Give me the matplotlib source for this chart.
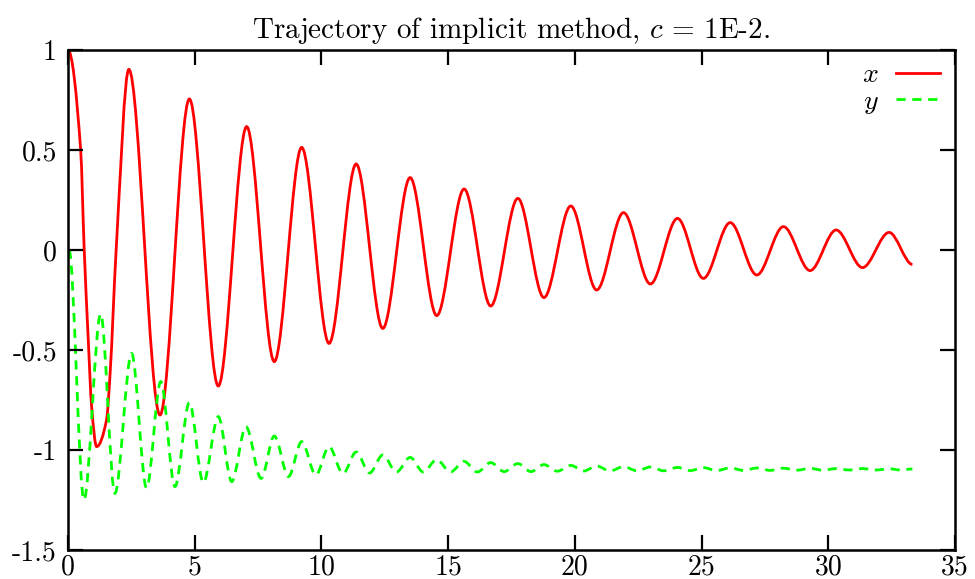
import numpy as np
import matplotlib
matplotlib.use('Agg')
import matplotlib.pyplot as plt
from matplotlib.path import Path
from matplotlib.patches import PathPatch
from matplotlib.lines import Line2D

plt.rcParams['font.family'] = ['cmr10', 'DejaVu Serif']
plt.rcParams['mathtext.fontset'] = 'cm'
plt.rcParams['axes.unicode_minus'] = False

# x(t): turning points (plus a few points on the first swing)
x_t = [0.0, 0.50, 0.64, 0.80, 0.93, 1.13, 1.52, 1.66, 1.90, 2.40,
       3.63, 4.79, 5.93, 7.05, 8.14, 9.22, 10.30, 11.37, 12.42, 13.50,
       14.55, 15.63, 16.68, 17.75, 18.78, 19.84, 20.86, 21.92, 22.98,
       24.05, 25.07, 26.13, 27.18, 28.23, 29.28, 30.31, 31.35, 32.40, 33.32]
x_v = [1.0, 0.5, 0.0, -0.45, -0.78, -0.983, -0.85, -0.62, 0.0, 0.903,
       -0.825, 0.755, -0.68, 0.617, -0.558, 0.513, -0.467, 0.43, -0.392, 0.362,
       -0.328, 0.305, -0.28, 0.258, -0.238, 0.22, -0.2, 0.187, -0.17,
       0.158, -0.142, 0.137, -0.125, 0.117, -0.103, 0.10, -0.088, 0.088, -0.072]

# y(t): turning points
y_t = [0.04, 0.63, 1.29, 1.85, 2.51, 3.10, 3.66, 4.22, 4.79, 5.34, 5.93,
       6.46, 7.02, 7.62, 8.14, 8.70, 9.22, 9.78, 10.30, 10.85, 11.37, 11.90,
       12.42, 12.96, 13.50, 14.02, 14.55, 15.09, 15.63, 16.15, 16.68, 17.21,
       17.75, 18.27, 18.78, 19.31, 19.84, 20.35, 20.86, 21.39, 21.92, 22.45,
       22.98, 23.51, 24.05, 24.56, 25.07, 25.60, 26.13, 26.65, 27.18, 27.70,
       28.23, 28.75, 29.28, 29.80, 30.31, 30.83, 31.35, 31.88, 32.40, 32.86,
       33.32]
y_v = [0.0, -1.25, -0.32, -1.217, -0.517, -1.19, -0.658, -1.183, -0.763, -1.163, -0.833,
       -1.158, -0.883, -1.142, -0.930, -1.133, -0.958, -1.125, -0.983, -1.118, -1.010, -1.115,
       -1.025, -1.110, -1.037, -1.110, -1.048, -1.110, -1.057, -1.110, -1.063, -1.108,
       -1.068, -1.108, -1.073, -1.106, -1.077, -1.105, -1.080, -1.105, -1.083, -1.104,
       -1.085, -1.104, -1.087, -1.103, -1.088, -1.103, -1.089, -1.102, -1.090, -1.102,
       -1.091, -1.101, -1.092, -1.101, -1.093, -1.100, -1.093, -1.100, -1.094, -1.100,
       -1.095]

xticks = [0, 5, 10, 15, 20, 25, 30, 35]
yticks = [-1.5, -1, -0.5, 0, 0.5, 1]
ytick_labels = ['-1.5', '-1', '-0.5', '0', '0.5', '1']


def slopes(t, v):
    # monotone (Fritsch-Carlson) tangents, flat at turning points
    t = np.asarray(t, float)
    v = np.asarray(v, float)
    h = np.diff(t)
    d = np.diff(v) / h
    m = np.zeros_like(v)
    for i in range(1, len(v) - 1):
        if d[i - 1] * d[i] > 0:
            w1 = 2 * h[i] + h[i - 1]
            w2 = h[i] + 2 * h[i - 1]
            m[i] = (w1 + w2) / (w1 / d[i - 1] + w2 / d[i])
    return m


def curve(t, v):
    m = slopes(t, v)
    verts = [(t[0], v[0])]
    codes = [Path.MOVETO]
    for i in range(len(t) - 1):
        h = t[i + 1] - t[i]
        verts += [(t[i] + h / 3, v[i] + m[i] * h / 3),
                  (t[i + 1] - h / 3, v[i + 1] - m[i + 1] * h / 3),
                  (t[i + 1], v[i + 1])]
        codes += [Path.CURVE4] * 3
    return Path(verts, codes)


fig = plt.figure(figsize=(9.75, 5.79), dpi=100)
ax = fig.add_axes([68 / 975, 29 / 579, 887 / 975, 500 / 579])

red_style = dict(color='#ff0000', lw=2.0)
green_style = dict(color='#00ff00', lw=2.0, ls=(0, (3.3, 2.4)))

ax.add_patch(PathPatch(curve(x_t, x_v), fill=False, edgecolor=red_style['color'],
                       lw=red_style['lw']))
ax.add_patch(PathPatch(curve(y_t, y_v), fill=False, edgecolor=green_style['color'],
                       lw=green_style['lw'], ls=green_style['ls']))

ax.set_xlim(0, 35)
ax.set_ylim(-1.5, 1)
ax.set_xticks(xticks)
ax.set_yticks(yticks, labels=ytick_labels)
ax.tick_params(direction='in', length=11, width=1.6, top=True, right=True,
               labelsize=20, color='black')
ax.tick_params(axis='x', pad=3)
ax.tick_params(axis='y', pad=8)
for s in ax.spines.values():
    s.set_linewidth(1.8)

ax.set_title(r'Trajectory of implicit method, $c\,=\,1$E-2.', fontsize=21, pad=9)

handles = [Line2D([], [], **red_style), Line2D([], [], **green_style)]
ax.legend(handles, ['$x$', '$y$'], loc='upper right', frameon=False,
          markerfirst=False, fontsize=20, handlelength=1.6, handletextpad=0.6,
          labelspacing=0.0, borderpad=0, borderaxespad=0,
          bbox_to_anchor=(940 / 975, 1 - 62 / 579), bbox_transform=fig.transFigure)

fig.savefig('out.png', dpi=100)
